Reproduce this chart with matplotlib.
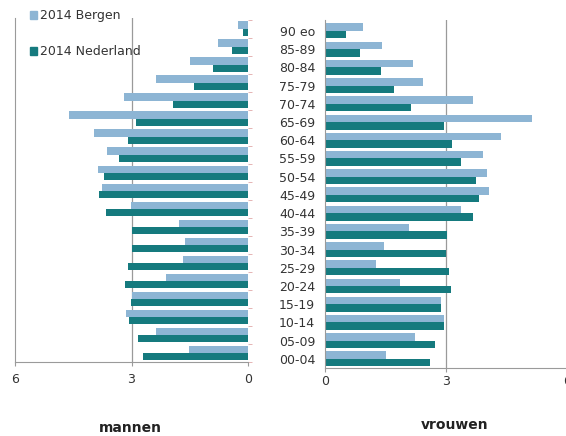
import numpy as np
import matplotlib
matplotlib.use("Agg")
import matplotlib.pyplot as plt
from matplotlib.patches import Patch

# age groups, bottom to top
ages = ["00-04", "05-09", "10-14", "15-19", "20-24", "25-29", "30-34", "35-39",
        "40-44", "45-49", "50-54", "55-59", "60-64", "65-69", "70-74", "75-79",
        "80-84", "85-89", "90 eo"]

# percentages, same order as ages
men_bergen = [1.52, 2.37, 3.13, 2.98, 2.12, 1.68, 1.62, 1.77, 3.02, 3.75,
              3.86, 3.64, 3.96, 4.61, 3.20, 2.36, 1.49, 0.77, 0.27]
men_nl = [2.71, 2.83, 3.07, 3.02, 3.17, 3.10, 2.98, 2.98, 3.66, 3.83,
          3.71, 3.32, 3.10, 2.89, 1.94, 1.38, 0.89, 0.40, 0.12]
women_bergen = [1.50, 2.24, 2.95, 2.88, 1.85, 1.27, 1.47, 2.08, 3.37, 4.06,
                4.02, 3.92, 4.36, 5.14, 3.67, 2.42, 2.19, 1.42, 0.94]
women_nl = [2.61, 2.72, 2.95, 2.88, 3.13, 3.08, 2.99, 3.02, 3.67, 3.81,
            3.75, 3.37, 3.14, 2.96, 2.12, 1.71, 1.38, 0.87, 0.51]

xticks = [0, 3, 6]
c_bergen = "#8db5d4"
c_nl = "#157a7e"
grid_c = "#9a9a9a"

plt.rcParams["font.family"] = "DejaVu Sans"
fig = plt.figure(figsize=(5.66, 4.36), dpi=100)

W, H = 566, 436
def rect(x0, x1, ytop, ybot):
    return [x0 / W, 1 - ybot / H, (x1 - x0) / W, (ybot - ytop) / H]

ax_m = fig.add_axes(rect(15, 248, 18, 362))
ax_v = fig.add_axes(rect(325, 567, 20, 368))

y = np.arange(len(ages))
bh = 0.41

for ax, b, n, pad in [(ax_m, men_bergen, men_nl, 5), (ax_v, women_bergen, women_nl, 2)]:
    ax.barh(y + bh / 2, b, height=bh, color=c_bergen, zorder=2)
    ax.barh(y - bh / 2, n, height=bh, color=c_nl, zorder=2)
    ax.set_ylim(-0.5, len(ages) - 0.4)
    ax.set_xticks(xticks)
    ax.set_xticklabels([str(t) for t in xticks], fontsize=9, color="#333333")
    ax.tick_params(axis="x", length=3, color=grid_c, pad=pad)
    ax.axvline(3, color=grid_c, lw=0.9, zorder=1)
    for s in ["top", "right", "left", "bottom"]:
        ax.spines[s].set_visible(False)
    ax.spines["bottom"].set_visible(True)
    ax.spines["bottom"].set_color(grid_c)

# men: reversed axis
ax_m.set_xlim(6, 0)
ax_m.spines["left"].set_visible(True)
ax_m.spines["left"].set_color(grid_c)
ax_m.set_yticks(y)
ax_m.set_yticklabels([])
ax_m.tick_params(axis="y", left=False)
ax_m.set_yticks(np.arange(-0.5, len(ages), 1), minor=True)
ax_m.tick_params(axis="y", which="minor", right=True, left=False, length=3,
                 color="#e0a8a8", width=0.6)
ax_m.axvline(0, color="#ead4d4", lw=0.6, zorder=1)

# women
ax_v.set_xlim(0, 6)
ax_v.spines["left"].set_visible(True)
ax_v.spines["left"].set_color(grid_c)
ax_v.set_yticks(y)
ax_v.set_yticklabels(ages, fontsize=9, color="#333333")
ax_v.tick_params(axis="y", length=0, pad=7)

fig.text(130 / W, 1 - 428 / H, "mannen", ha="center", va="center",
         fontsize=10, fontweight="bold", color="#222222")
fig.text(455 / W, 1 - 425 / H, "vrouwen", ha="center", va="center",
         fontsize=10, fontweight="bold", color="#222222")

handles = [Patch(color=c_bergen, label="2014 Bergen"),
           Patch(color=c_nl, label="2014 Nederland")]
fig.legend(handles=handles, loc="upper left", bbox_to_anchor=(19 / W, 1 + 2 / H),
           frameon=False, fontsize=9, handlelength=0.55, handleheight=0.55,
           handletextpad=0.2, labelspacing=1.85, labelcolor="#333333")

fig.savefig("out.png", dpi=100)
